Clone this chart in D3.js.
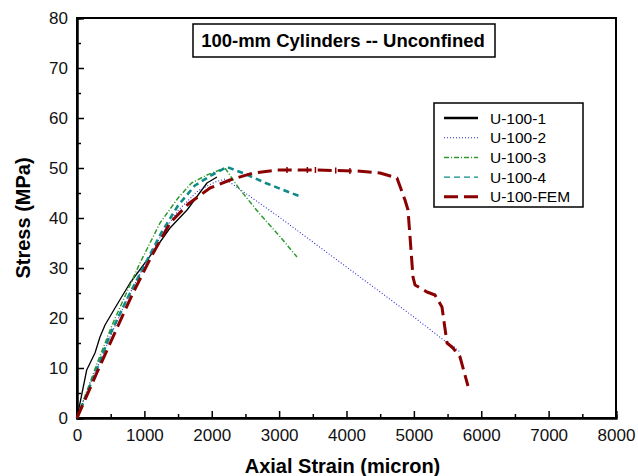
<!DOCTYPE html>
<html>
<head>
<meta charset="utf-8">
<script src="https://cdn.jsdelivr.net/npm/d3@7"></script>
<style>
  body { margin: 0; background: #fff; }
  text { font-family: "Liberation Sans", Arial, sans-serif; }
</style>
</head>
<body>
<script>
// data: [axial strain (micron), stress (MPa)]
const u1001 = [[0,0],[144,9.6],[267,13],[341,16.2],[416,18.6],[564,22],[787,27],[1128,33.2],[1380,38],[1633,41.6],[1929,47],[2078,48.2]]
const u1002 = [[0,0],[150,5.5],[300,10],[500,16.5],[750,24],[1000,30.5],[1250,36.5],[1500,41.5],[1800,45.5],[2050,47.2],[2200,47.8],[2600,44],[3000,40.2],[3500,35.2],[4000,30.2],[4500,25.2],[5000,20.2],[5450,15.5],[5600,14.2],[5685,13.2]]
const u1003 = [[0,0],[150,5.5],[300,11],[534,19],[750,25.5],[935,31],[1232,39],[1500,44],[1700,47],[1929,48.6],[2196,50],[2400,46],[2700,41],[3000,36.5],[3265,32.2]]
const u1004 = [[0,0],[150,5],[300,10],[500,17],[750,24],[1000,30.5],[1250,37],[1500,42.5],[1750,46.5],[2000,48.6],[2226,50.2],[2500,48.8],[2800,47],[3100,45.4],[3339,44.2]]
const u100fem = [[0,0],[300,9.2],[600,18.2],[831,25],[1100,32.2],[1380,39],[1650,42.8],[1974,46],[2271,47.6],[2612,49],[2968,49.6],[3500,49.6],[4156,49.4],[4497,49],[4749,48],[4868,43.6],[4913,41.6],[4987,28.2],[5017,26.6],[5195,25.2],[5313,24.6],[5417,22.2],[5492,15],[5581,14],[5685,12.2],[5803,6.4]]
// small tick marks along the flat part of the FEM curve
const femMarks = [[3117,49.6],[3419,49.6],[3539,49.6],[3840,49.5],[4051,49.4]]

const seriesNames = ['U-100-1', 'U-100-2', 'U-100-3', 'U-100-4', 'U-100-FEM']
const seriesData = [u1001, u1002, u1003, u1004, u100fem]
const xTicks = [0, 1000, 2000, 3000, 4000, 5000, 6000, 7000, 8000]
const yTicks = [0, 10, 20, 30, 40, 50, 60, 70, 80]

const styles = [
    {color: '#000000', width: 1.3, dash: null, legendWidth: 2.5},
    {color: '#2a2ad0', width: 1.1, dash: '1,2', legendWidth: 1.1},
    {color: '#2e9a2e', width: 1.5, dash: '5,2,1,2', legendWidth: 1.5},
    {color: '#0e8a8a', width: 2.6, dash: '6,4', legendWidth: 1.3},
    {color: '#8b0000', width: 3, dash: '14,6', legendWidth: 3}
]

const W = 638, H = 476
const m = {top: 18, right: 22, bottom: 58, left: 77}

const svg = d3.select('body').append('svg')
    .attr('width', W)
    .attr('height', H)

const x = d3.scaleLinear().domain([0, 8000]).range([m.left, W - m.right])
const y = d3.scaleLinear().domain([0, 80]).range([H - m.bottom, m.top])

// frame
svg.append('rect')
    .attr('x', x(0)).attr('y', y(80))
    .attr('width', x(8000) - x(0)).attr('height', y(0) - y(80))
    .attr('fill', 'none').attr('stroke', '#000').attr('stroke-width', 2)

// axes with inward ticks
const xAxis = d3.axisBottom(x).tickValues(xTicks).tickSize(-7).tickPadding(11).tickFormat(d3.format('d'))
const xMinor = d3.axisBottom(x).tickValues(d3.range(500, 8000, 1000)).tickSize(-4).tickFormat('')
const yAxis = d3.axisLeft(y).tickValues(yTicks).tickSize(-7).tickPadding(9).tickFormat(d3.format('d'))
const yMinor = d3.axisLeft(y).tickValues(d3.range(5, 80, 10)).tickSize(-4).tickFormat('')

function styleAxis(g) {
    g.select('.domain').attr('stroke-width', 2)
    g.selectAll('.tick line').attr('stroke-width', 1.5)
    g.selectAll('.tick text').attr('font-size', 17).attr('fill', '#111')
        .style('font-family', '"Liberation Sans", Arial, sans-serif')
}

svg.append('g').attr('transform', `translate(0,${y(0)})`).call(xAxis).call(styleAxis)
svg.append('g').attr('transform', `translate(0,${y(0)})`).call(xMinor).call(styleAxis)
svg.append('g').attr('transform', `translate(${x(0)},0)`).call(yAxis).call(styleAxis)
svg.append('g').attr('transform', `translate(${x(0)},0)`).call(yMinor).call(styleAxis)

// axis titles
svg.append('text')
    .attr('x', (x(0) + x(8000)) / 2 - 4).attr('y', 473)
    .attr('text-anchor', 'middle')
    .attr('font-size', 20).attr('font-weight', 'bold')
    .text('Axial Strain (micron)')

svg.append('text')
    .attr('transform', `translate(30,${(y(0) + y(80)) / 2}) rotate(-90)`)
    .attr('text-anchor', 'middle')
    .attr('font-size', 20).attr('font-weight', 'bold')
    .text('Stress (MPa)')

// curves
const line = d3.line().x(d => x(d[0])).y(d => y(d[1]))

seriesData.forEach((data, i) => {
    svg.append('path')
        .datum(data)
        .attr('d', line)
        .attr('fill', 'none')
        .attr('stroke', styles[i].color)
        .attr('stroke-width', styles[i].width)
        .attr('stroke-dasharray', styles[i].dash)
        .attr('stroke-linejoin', 'round')
})

svg.selectAll('.fem-mark')
    .data(femMarks)
    .enter()
    .append('line')
    .attr('class', 'fem-mark')
    .attr('x1', d => x(d[0])).attr('x2', d => x(d[0]))
    .attr('y1', d => y(d[1]) - 3).attr('y2', d => y(d[1]) + 3)
    .attr('stroke', '#8b0000')
    .attr('stroke-width', 1.5)

// title box
const title = svg.append('g')
title.append('rect')
    .attr('x', 193).attr('y', 24).attr('width', 302).attr('height', 33)
    .attr('fill', '#fff').attr('stroke', '#000').attr('stroke-width', 1.5)
title.append('text')
    .attr('x', 343).attr('y', 47)
    .attr('text-anchor', 'middle')
    .attr('font-size', 18.5).attr('font-weight', 'bold')
    .text('100-mm Cylinders -- Unconfined')

// legend
const legend = svg.append('g')
legend.append('rect')
    .attr('x', 434).attr('y', 103).attr('width', 149).attr('height', 104)
    .attr('fill', '#fff').attr('stroke', '#000').attr('stroke-width', 1.5)

seriesNames.forEach((name, i) => {
    const ly = 118 + i * 19.7
    legend.append('line')
        .attr('x1', 444).attr('x2', 478)
        .attr('y1', ly).attr('y2', ly)
        .attr('stroke', styles[i].color)
        .attr('stroke-width', styles[i].legendWidth)
        .attr('stroke-dasharray', styles[i].dash)
    legend.append('text')
        .attr('x', 490).attr('y', ly + 5.5)
        .attr('font-size', 15.5)
        .text(name)
})
</script>
</body>
</html>
